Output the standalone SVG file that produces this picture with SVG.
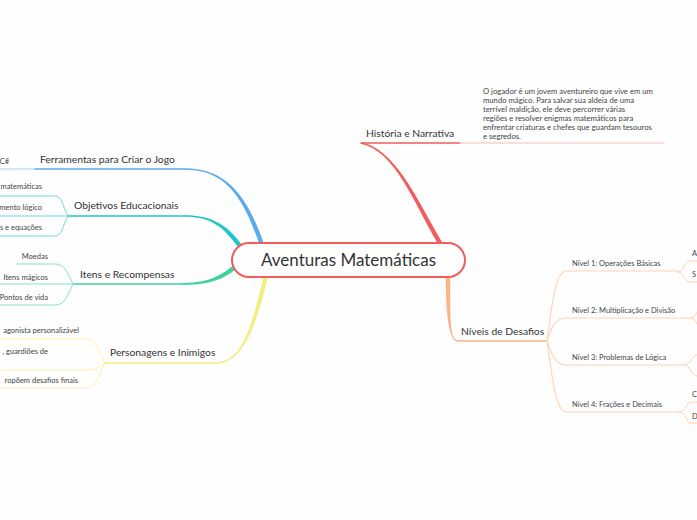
<svg xmlns="http://www.w3.org/2000/svg" width="697" height="520" viewBox="0 0 697 520">
<style>
.t{font-family:Lato,"Noto Sans","Liberation Sans",sans-serif;fill:#333}
.m{font-size:10.3px}
.s{font-size:7.5px;fill:#444}
.n{font-size:7.7px;fill:#444}
.ln{fill:none;stroke-linecap:round}
.red{stroke:#f25c5c}
.or{stroke:#ffb385}
.or2{stroke:#ffd2b3}
.bl{stroke:#5aaaf0}
.bl2{stroke:#a8d1f7}
.te{stroke:#1ec5c8}
.te2{stroke:#6dd9db}
.gr{stroke:#3ed39b}
.gr2{stroke:#86e3be}
.ye{stroke:#f6ec7a}
.ye2{stroke:#faf2aa}
</style>
<rect width="697" height="520" fill="#fefefe"/>
<g id="connectors">
  <path d="M441.9,241.9 C416.9,198.9 395.2,149.2 361.2,142.2 L360.8,143.8 C394.8,150.8 413.1,201.1 438.1,244.1 Z" fill="#f25c5c"/>
  <path d="M445.8,278 C445.8,320 450,341.8 458,341.8 L458,340.2 C450,340.2 450.2,320 450.2,278 Z" fill="#ffb385"/>
  <path d="M264.1,244.3 C247.1,194.3 225,168.2 185,168.2 L185,169.8 C225,169.8 242.9,195.7 259.9,245.7 Z" fill="#5aaaf0"/>
  <path d="M241.8,244.7 C226.8,223.7 210,215.2 185,215.2 L185,216.8 C210,216.8 223.2,226.3 238.2,247.3 Z" fill="#1ec5c8"/>
  <path d="M234.55,264.35 C218.55,278.35 205,283.2 180,283.2 L180,284.8 C205,284.8 221.45,281.65 237.45,267.65 Z" fill="#3ed39b"/>
  <path d="M263.9,275.5 C252.9,319.5 245,362.2 215,362.2 L215,363.8 C245,363.8 257.1,320.5 268.1,276.5 Z" fill="#f6ec7a"/>
  <path class="ln red" d="M361,143 H460" stroke-width="1.4"/>
  <path class="ln" d="M460,143 H664" stroke="#f9bcbc" stroke-width="1"/>
  <path class="ln or" d="M458,341 H547" stroke-width="1.4"/>
  <path class="ln bl" d="M35,169 H185" stroke-width="1.4"/>
  <path class="ln te" d="M68,216 H185" stroke-width="1.4"/>
  <path class="ln gr" d="M73,284 H180" stroke-width="1.4"/>
  <path class="ln ye" d="M105,363 H215" stroke-width="1.4"/>
  <path class="ln bl2" d="M35,169 H-2" stroke-width="1"/>
  <path class="ln te2" d="M68,216 C62,205 62,196 55,196 H-2" stroke-width="1"/>
  <path class="ln te2" d="M68,216 H-2" stroke-width="1"/>
  <path class="ln te2" d="M68,216 C62,227 62,236 55,236 H-2" stroke-width="1"/>
  <path class="ln gr2" d="M73,284 C67,272 65,264 55,264 H17" stroke-width="1"/>
  <path class="ln gr2" d="M73,284 H-2" stroke-width="1"/>
  <path class="ln gr2" d="M73,284 C67,296 65,305 55,305 H-2" stroke-width="1"/>
  <path class="ln ye2" d="M105,363 C97,346 95,339 85,339 H-2" stroke-width="1"/>
  <path class="ln ye2" d="M105,363 C100,368 95,370 85,370 H-2" stroke-width="1"/>
  <path class="ln ye2" d="M105,363 C97,380 95,388 85,388 H-2" stroke-width="1"/>
  <path class="ln or2" d="M547,341 C553,295 556,271 567,271 H678" stroke-width="1.1"/>
  <path class="ln or2" d="M547,341 C552,325 556,318 567,318 H692" stroke-width="1.1"/>
  <path class="ln or2" d="M547,341 C552,356 556,365 567,365 H685" stroke-width="1.1"/>
  <path class="ln or2" d="M547,341 C553,385 556,412 567,412 H680" stroke-width="1.1"/>
  <path class="ln or2" d="M678,272 C684,272 684,261 690,261 H699" stroke-width="1"/>
  <path class="ln or2" d="M678,272 C684,272 684,282 690,282 H699" stroke-width="1"/>
  <path class="ln or2" d="M692,318 C695,318 696,313 699,309" stroke-width="1"/>
  <path class="ln or2" d="M692,318 C695,318 696,323 699,327" stroke-width="1"/>
  <path class="ln or2" d="M685,365 C690,365 691,356 697,355 H699" stroke-width="1"/>
  <path class="ln or2" d="M685,365 C690,365 691,375 697,376 H699" stroke-width="1"/>
  <path class="ln or2" d="M680,412 C686,412 686,402 691,402 H699" stroke-width="1"/>
  <path class="ln or2" d="M680,412 C686,412 686,423 691,423 H699" stroke-width="1"/>
</g>
<g id="central">
  <rect x="232" y="243" width="233" height="34" rx="17" fill="#fff" stroke="#f25c5c" stroke-width="2"/>
  <text class="t" x="348.5" y="266" font-size="17" text-anchor="middle">Aventuras Matemáticas</text>
</g>
<g id="historia">
  <text class="t m" x="366" y="137">História e Narrativa</text>
</g>
<g id="historia-nota">
  <text class="t n" x="483" y="94">O jogador é um jovem aventureiro que vive em um</text>
  <text class="t n" x="483" y="103">mundo mágico. Para salvar sua aldeia de uma</text>
  <text class="t n" x="483" y="112">terrível maldição, ele deve percorrer várias</text>
  <text class="t n" x="483" y="121">regiões e resolver enigmas matemáticos para</text>
  <text class="t n" x="483" y="130">enfrentar criaturas e chefes que guardam tesouros</text>
  <text class="t n" x="483" y="139">e segredos.</text>
</g>
<g id="niveis">
  <text class="t m" x="461" y="335">Níveis de Desafios</text>
</g>
<g id="nivel1"><text class="t s" x="572" y="266">Nível 1: Operações Básicas</text></g>
<g id="nivel1-a"><text class="t s" x="692" y="256">A</text></g>
<g id="nivel1-s"><text class="t s" x="692" y="277">S</text></g>
<g id="nivel2"><text class="t s" x="572" y="313">Nível 2: Multiplicação e Divisão</text></g>
<g id="nivel3"><text class="t s" x="572" y="360">Nível 3: Problemas de Lógica</text></g>
<g id="nivel4"><text class="t s" x="572" y="407">Nível 4: Frações e Decimais</text></g>
<g id="nivel4-c"><text class="t s" x="692" y="397">C</text></g>
<g id="nivel4-d"><text class="t s" x="692" y="419">D</text></g>
<g id="ferramentas">
  <text class="t m" x="40" y="163">Ferramentas para Criar o Jogo</text>
</g>
<g id="ferramentas-c"><text class="t s" x="9" y="164" text-anchor="end">C#</text></g>
<g id="objetivos">
  <text class="t m" x="74" y="209">Objetivos Educacionais</text>
</g>
<g id="obj-1"><text class="t s" x="42" y="189" text-anchor="end">matemáticas</text></g>
<g id="obj-2"><text class="t s" x="42" y="210" text-anchor="end">mento lógico</text></g>
<g id="obj-3"><text class="t s" x="42" y="230" text-anchor="end">s e equações</text></g>
<g id="itens">
  <text class="t m" x="80" y="278">Itens e Recompensas</text>
</g>
<g id="itens-1"><text class="t s" x="48" y="259" text-anchor="end">Moedas</text></g>
<g id="itens-2"><text class="t s" x="48" y="280" text-anchor="end">Itens mágicos</text></g>
<g id="itens-3"><text class="t s" x="48" y="300" text-anchor="end">Pontos de vida</text></g>
<g id="personagens">
  <text class="t m" x="110" y="356">Personagens e Inimigos</text>
</g>
<g id="pers-1"><text class="t s" x="79" y="333" text-anchor="end">agonista personalizável</text></g>
<g id="pers-2"><text class="t s" x="48" y="354" text-anchor="end">, guardiões de</text></g>
<g id="pers-3"><text class="t s" x="78" y="383" text-anchor="end">ropõem desafios finais</text></g>
</svg>
